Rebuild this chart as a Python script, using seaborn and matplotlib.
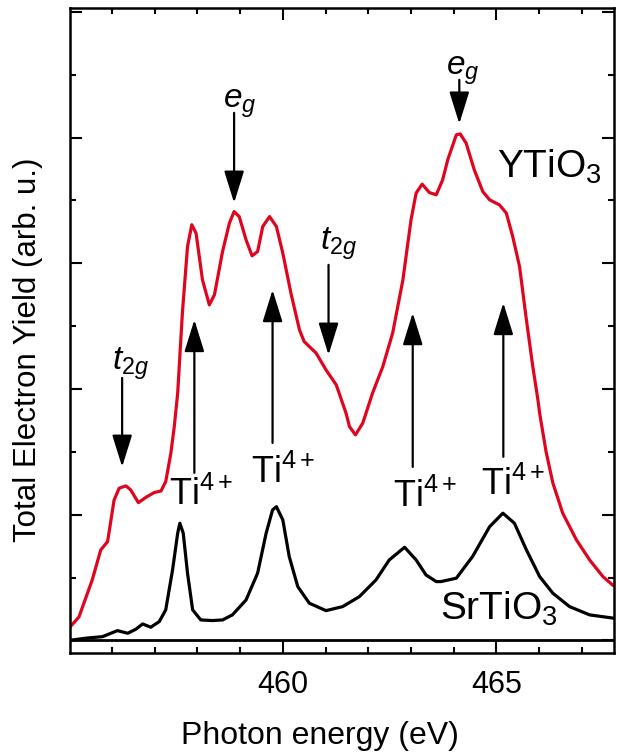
import matplotlib
matplotlib.use("Agg")
import matplotlib.pyplot as plt
from matplotlib.ticker import MultipleLocator, FixedLocator, NullFormatter
import seaborn as sns
import pandas as pd

# ---- data ----
ytio3_energy = [455.00, 455.23, 455.54, 455.74, 455.90, 456.05, 456.17, 456.33, 456.44, 456.62,
                456.80, 456.99, 457.15, 457.26, 457.38, 457.46, 457.54, 457.65, 457.77, 457.87,
                457.97, 458.12, 458.28, 458.40, 458.59, 458.75, 458.86, 458.98, 459.14, 459.28,
                459.41, 459.53, 459.69, 459.85, 460.00, 460.19, 460.39, 460.50, 460.78, 461.01,
                461.25, 461.48, 461.56, 461.70, 461.87, 462.10, 462.34, 462.57, 462.81, 463.00,
                463.12, 463.26, 463.43, 463.59, 463.74, 463.86, 464.06, 464.15, 464.29, 464.48,
                464.68, 464.84, 465.07, 465.23, 465.38, 465.54, 465.70, 465.85, 465.97, 466.01,
                466.16, 466.32, 466.55, 466.87, 467.18, 467.49, 467.74]
ytio3_yield = [0.099, 0.187, 0.481, 0.720, 0.786, 1.114, 1.211, 1.229, 1.197, 1.096,
               1.139, 1.176, 1.189, 1.263, 1.489, 1.701, 1.967, 2.605, 3.133, 3.306,
               3.239, 2.868, 2.669, 2.749, 3.093, 3.319, 3.411, 3.371, 3.186, 3.059,
               3.093, 3.292, 3.371, 3.292, 3.080, 2.762, 2.470, 2.377, 2.285, 2.152,
               2.033, 1.807, 1.701, 1.635, 1.728, 1.967, 2.178, 2.444, 2.868, 3.345,
               3.558, 3.629, 3.562, 3.544, 3.663, 3.823, 4.021, 4.029, 3.955, 3.743,
               3.570, 3.504, 3.464, 3.399, 3.212, 2.974, 2.550, 2.178, 1.913, 1.807,
               1.502, 1.251, 1.012, 0.800, 0.640, 0.508, 0.434]

srtio3_energy = [455.00, 455.39, 455.78, 456.13, 456.37, 456.56, 456.72, 456.91, 457.11, 457.26,
                 457.42, 457.54, 457.59, 457.67, 457.77, 457.89, 458.08, 458.36, 458.59, 458.82,
                 459.14, 459.41, 459.61, 459.76, 459.85, 460.00, 460.15, 460.35, 460.62, 461.01,
                 461.40, 461.79, 462.18, 462.49, 462.85, 463.12, 463.35, 463.59, 463.70, 464.06,
                 464.44, 464.84, 465.15, 465.42, 465.70, 466.01, 466.32, 466.71, 467.18, 467.74]
srtio3_yield = [0.000, 0.018, 0.030, 0.078, 0.057, 0.089, 0.131, 0.105, 0.150, 0.243,
                0.561, 0.853, 0.932, 0.853, 0.535, 0.243, 0.163, 0.158, 0.163, 0.203,
                0.322, 0.535, 0.853, 1.038, 1.064, 0.959, 0.667, 0.428, 0.296, 0.237,
                0.269, 0.348, 0.481, 0.640, 0.741, 0.640, 0.521, 0.468, 0.468, 0.495,
                0.667, 0.905, 1.012, 0.932, 0.720, 0.508, 0.375, 0.269, 0.203, 0.177]

x_major_ticks = [460, 465]
x_minor_ticks = [456, 457, 458, 459, 461, 462, 463, 464, 466, 467]

# annotation arrows: (x, tail_y, tip_y)
down_arrows = [(458.86, 4.196, 3.48), (464.13, 4.459, 4.109),
               (456.24, 2.088, 1.380), (461.07, 2.987, 2.271)]
up_arrows = [(457.93, 1.333, 2.550), (459.76, 1.571, 2.788),
             (463.04, 1.380, 2.605), (465.16, 1.460, 2.685)]
eg_labels = [(458.98, 4.14), (464.22, 4.40)]
t2g_labels = [(456.43, 2.056), (461.30, 3.011)]
ti_labels = [(458.09, 1.078), (460.01, 1.251), (463.34, 1.065), (465.40, 1.157)]

# ---- styling ----
sns.set_theme(style="ticks")
plt.rcParams["font.family"] = ["Liberation Sans", "DejaVu Sans"]
plt.rcParams["mathtext.fontset"] = "custom"
plt.rcParams["mathtext.rm"] = "Liberation Sans"
plt.rcParams["mathtext.it"] = "Liberation Sans:italic"
plt.rcParams["text.color"] = "black"
plt.rcParams["axes.labelcolor"] = "black"
plt.rcParams["xtick.color"] = "black"
plt.rcParams["ytick.color"] = "black"

fig = plt.figure(figsize=(6.17, 7.52), dpi=100)
ax = fig.add_axes([70 / 617, 1 - 653 / 752, 544 / 617, 645 / 752])

red = "#E0051F"
df_y = pd.DataFrame({"E": ytio3_energy, "I": ytio3_yield})
df_s = pd.DataFrame({"E": srtio3_energy, "I": srtio3_yield})
sns.lineplot(data=df_s, x="E", y="I", ax=ax, color="black", lw=2.3, sort=False,
             estimator=None, solid_joinstyle="round")
sns.lineplot(data=df_y, x="E", y="I", ax=ax, color=red, lw=2.3, sort=False,
             estimator=None, solid_joinstyle="round")
ax.axhline(0, color="black", lw=2.0, zorder=1)

ax.set_xlim(455.02, 467.75)
ax.set_ylim(-0.1, 5.03)

ax.xaxis.set_major_locator(FixedLocator(x_major_ticks))
ax.xaxis.set_minor_locator(FixedLocator(x_minor_ticks))
ax.yaxis.set_major_locator(MultipleLocator(1))
ax.yaxis.set_minor_locator(MultipleLocator(0.5))
ax.yaxis.set_major_formatter(NullFormatter())
ax.tick_params(which="both", direction="in", top=True, right=True, colors="black",
               labelcolor="black")
ax.tick_params(which="major", length=8.6, width=1.5, labelsize=22, pad=12)
ax.tick_params(which="minor", length=4.3, width=1.5)
for s in ax.spines.values():
    s.set_linewidth(1.8)
    s.set_color("black")

ax.set_xlabel("Photon energy (eV)", fontsize=23, color="black")
ax.set_ylabel("Total Electron Yield (arb. u.)", fontsize=22.5, color="black")
ax.xaxis.set_label_coords(0.46, -0.105)
ax.yaxis.set_label_coords(-0.05, 0.47)

arrow_kw = dict(arrowstyle="-|>,head_length=0.9,head_width=0.28", color="black",
                lw=1.6, mutation_scale=22, shrinkA=0, shrinkB=0)
for x, y0, y1 in down_arrows + up_arrows:
    ax.annotate("", xy=(x, y1), xytext=(x, y0), arrowprops=arrow_kw)

for x, y in eg_labels:
    ax.text(x, y, r"$\mathit{e}_{\mathit{g}}$", fontsize=24, ha="center", va="bottom",
            color="black")
for x, y in t2g_labels:
    ax.text(x, y, r"$\mathit{t}_{\mathit{2g}}$", fontsize=24, ha="center", va="bottom",
            color="black")
for x, y in ti_labels:
    ax.text(x, y, r"Ti$^{4+}$", fontsize=26, ha="center", va="baseline", color="black")

ax.text(465.02, 3.68, r"YTiO$_3$", fontsize=28, ha="left", va="baseline", color="black")
ax.text(463.67, 0.163, r"SrTiO$_3$", fontsize=28, ha="left", va="baseline", color="black")

fig.savefig("out.png", dpi=100)
